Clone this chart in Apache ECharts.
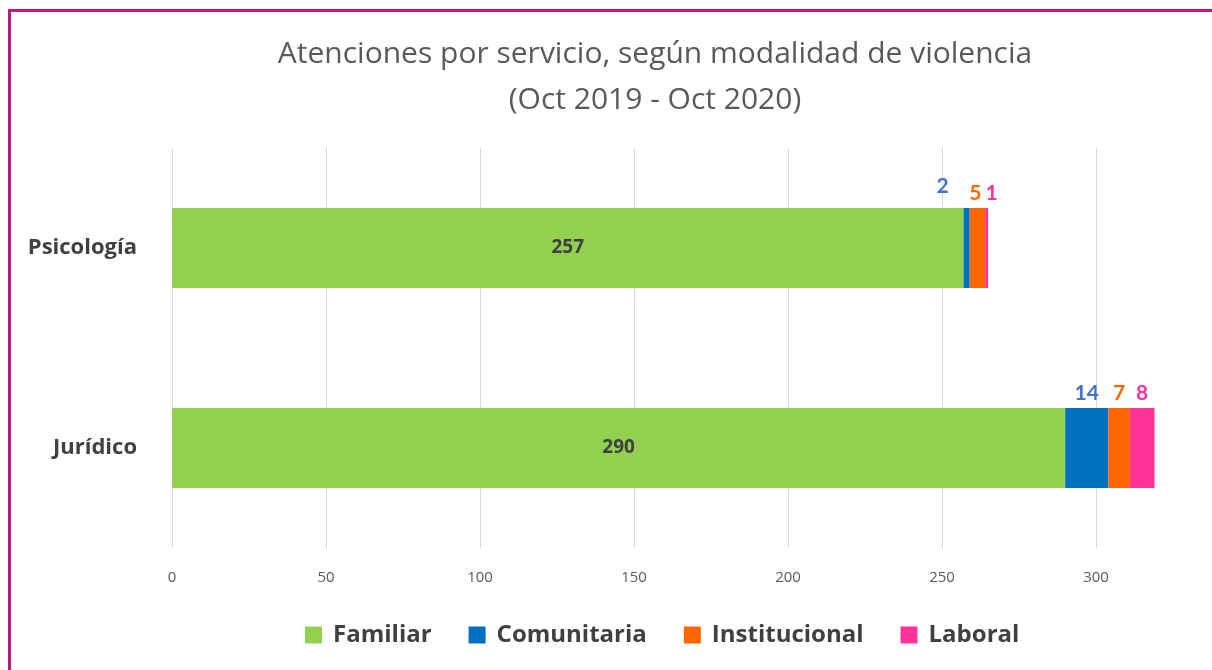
<!DOCTYPE html>
<html lang="es">
<head>
    <meta charset="UTF-8">
    <title>Atenciones por servicio</title>
    <script src="https://cdn.jsdelivr.net/npm/echarts@6/dist/echarts.min.js"></script>
    <style>
        body { margin: 0; background: #fff; }
        #frame { position: absolute; left: 8px; top: 9px; width: 1220px; height: 680px;
                 border-left: 3px solid #C0187A; border-top: 3px solid #C0187A; }
        #content { position: absolute; left: 0; top: 0; width: 1212px; height: 670px; }
    </style>
</head>
<body>
<div id="content"></div>
<div id="frame"></div>
<script>
    // datos
    var categorias = ['Psicología', 'Jurídico'];
    var familiar = [257, 290];
    var comunitaria = [2, 14];
    var institucional = [5, 7];
    var laboral = [1, 8];
    var ticksX = [0, 50, 100, 150, 200, 250, 300];

    var myChart = echarts.init(document.getElementById('content'));
    var fuente = 'Lato, "Open Sans", sans-serif';
    var fuenteAncha = '"Open Sans", Lato, sans-serif';

    function topLabel(color) {
        return {
            show: true,
            position: 'top',
            distance: 4,
            color: color,
            fontFamily: fuente,
            fontWeight: 'bold',
            fontSize: 21
        };
    }

    function serie(nombre, datos, color, labelColor, offsets) {
        return {
            name: nombre,
            type: 'bar',
            stack: 'total',
            barWidth: 80,
            clip: false,
            itemStyle: { color: color },
            data: datos.map(function (v, i) {
                var lab = topLabel(labelColor);
                if (offsets && offsets[i]) lab.offset = offsets[i];
                return { value: v, label: lab };
            })
        };
    }

    var option = {
        animation: false,
        backgroundColor: '#ffffff',
        title: {
            text: 'Atenciones por servicio, según modalidad de violencia\n(Oct 2019 - Oct 2020)',
            left: 650,
            textAlign: 'center',
            top: 26,
            textStyle: {
                fontFamily: fuenteAncha,
                fontWeight: 'normal',
                fontSize: 30,
                color: '#595959',
                lineHeight: 46
            }
        },
        legend: {
            left: 300,
            top: 618,
            itemWidth: 17,
            itemHeight: 17,
            itemGap: 37,
            icon: 'rect',
            textStyle: {
                fontFamily: fuenteAncha,
                fontWeight: 'bold',
                fontSize: 24,
                color: '#404040',
                padding: [0, 0, 0, 6]
            },
            data: ['Familiar', 'Comunitaria', 'Institucional', 'Laboral']
        },
        grid: {
            left: 172,
            right: 116,
            top: 148,
            bottom: 122,
            containLabel: false
        },
        xAxis: {
            type: 'value',
            min: ticksX[0],
            max: ticksX[ticksX.length - 1],
            interval: 50,
            axisLine: { show: false },
            axisTick: { show: false },
            splitLine: { show: true, lineStyle: { color: '#d9d9d9', width: 1 } },
            axisLabel: {
                margin: 22,
                fontFamily: fuenteAncha,
                fontSize: 15,
                color: '#595959'
            }
        },
        yAxis: {
            type: 'category',
            inverse: true,
            data: categorias,
            axisLine: { show: false },
            axisTick: { show: false },
            axisLabel: {
                margin: 35,
                fontFamily: fuenteAncha,
                fontWeight: 'bold',
                fontSize: 22,
                color: '#404040'
            }
        },
        series: [
            {
                name: 'Familiar',
                type: 'bar',
                stack: 'total',
                barWidth: 80,
                clip: false,
                itemStyle: { color: '#92D050' },
                label: {
                    show: true,
                    position: 'inside',
                    fontFamily: fuenteAncha,
                    fontWeight: 'bold',
                    fontSize: 19,
                    color: '#404040'
                },
                data: familiar
            },
            serie('Comunitaria', comunitaria, '#0070C0', '#4472C4', [[-24, -7]]),
            serie('Institucional', institucional, '#FF6600', '#FF6600', [[-2, 0]]),
            serie('Laboral', laboral, '#FF3399', '#FF3399', [[5, 0]])
        ]
    };
    myChart.setOption(option);
</script>
</body>
</html>
